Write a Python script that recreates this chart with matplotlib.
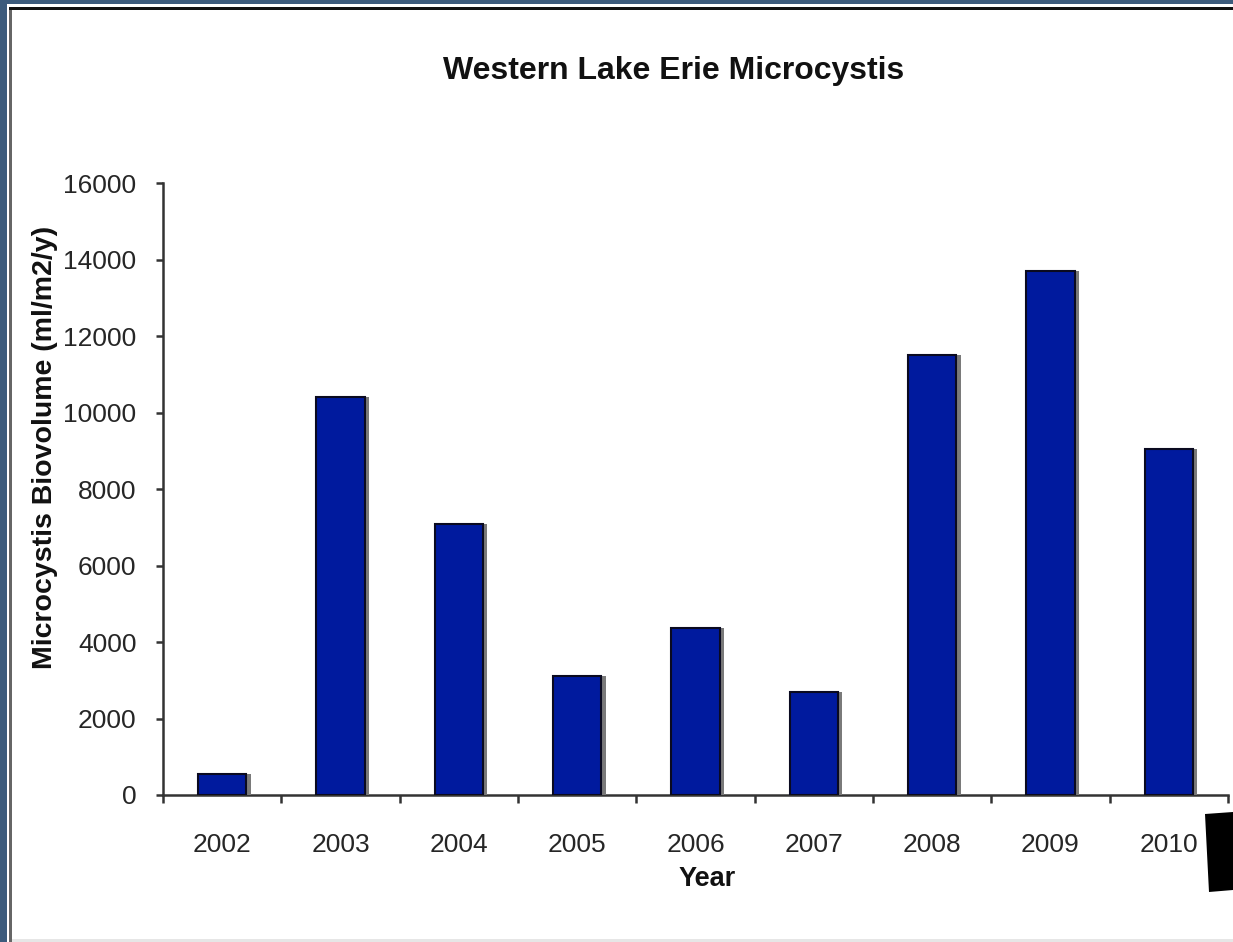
import numpy as np
import matplotlib
matplotlib.use('Agg')
import matplotlib.pyplot as plt
import matplotlib.patheffects as pe
from matplotlib.patches import Rectangle, Polygon

plt.rcParams['font.family'] = ['Liberation Sans', 'DejaVu Sans']

years = ['2002', '2003', '2004', '2005', '2006', '2007', '2008', '2009', '2010']
biovolume = [550, 10400, 7080, 3100, 4370, 2700, 11500, 13700, 9050]
yticks = [0, 2000, 4000, 6000, 8000, 10000, 12000, 14000, 16000]

W, H = 1233, 942
fig = plt.figure(figsize=(W / 100, H / 100), dpi=100)
fig.patch.set_facecolor('white')

# frame around the picture (slate border, dark inner lines)
fig.patches.append(Rectangle((0, 0), 7 / W, 1, transform=fig.transFigure,
                             facecolor='#3c5b7c', edgecolor='none'))
fig.patches.append(Rectangle((0, 1 - 4 / H), 1, 4 / H, transform=fig.transFigure,
                             facecolor='#3c5b7c', edgecolor='none'))
fig.patches.append(Rectangle((9 / W, 0), 3 / W, 1 - 7 / H, transform=fig.transFigure,
                             facecolor='#666666', edgecolor='none'))
fig.patches.append(Rectangle((9 / W, 1 - 10 / H), 1, 3 / H, transform=fig.transFigure,
                             facecolor='#111111', edgecolor='none'))
fig.patches.append(Rectangle((12 / W, 0), 1, 3 / H, transform=fig.transFigure,
                             facecolor='#e6e6e6', edgecolor='none'))
# black blob at bottom right
fig.patches.append(Polygon([(1205 / W, 1 - 814 / H), (1233 / W, 1 - 812 / H),
                            (1233 / W, 1 - 890 / H), (1209 / W, 1 - 892 / H)],
                           closed=True, transform=fig.transFigure,
                           facecolor='black', edgecolor='none'))

ax = fig.add_axes([163 / W, 1 - 795 / H, (1228 - 163) / W, (795 - 183) / H])
x = np.arange(len(years))
bars = ax.bar(x, biovolume, width=0.41, color='#001a9e', edgecolor='#0a0a20',
              linewidth=1.5, zorder=3)
for b in bars:
    b.set_path_effects([pe.SimplePatchShadow(offset=(3, 0), shadow_rgbFace='#7a7a7a', alpha=1.0),
                        pe.Normal()])

ax.set_xlim(-0.5, len(years) - 0.5)
ax.set_ylim(0, 16000)
ax.set_yticks(yticks)
ax.set_yticklabels([str(v) for v in yticks])
ax.set_xticks(x)
ax.set_xticklabels(years)
ax.set_xticks(np.arange(-0.5, len(years), 1), minor=True)

for s in ['top', 'right']:
    ax.spines[s].set_visible(False)
for s in ['left', 'bottom']:
    ax.spines[s].set_color('#333333')
    ax.spines[s].set_linewidth(1.8)

ax.tick_params(axis='x', which='major', length=0, pad=27, labelsize=19, labelcolor='#262626')
ax.tick_params(axis='x', which='minor', length=6, width=1.8, color='#333333', direction='out')
ax.tick_params(axis='y', length=5, width=1.8, color='#333333', pad=14,
               labelsize=19, labelcolor='#262626')

fig.text(707 / W, 1 - 879 / H, 'Year', ha='center', va='center',
         fontsize=19.5, fontweight='bold', color='#111111')
fig.text(45 / W, 1 - 447 / H, 'Microcystis Biovolume (ml/m2/y)', ha='center', va='center',
         rotation=90, fontsize=20.5, fontweight='bold', color='#111111')
fig.text(674 / W, 1 - 71 / H, 'Western Lake Erie Microcystis', ha='center', va='center',
         fontsize=23, fontweight='bold', color='#111111')

fig.savefig('out.png', dpi=100)
